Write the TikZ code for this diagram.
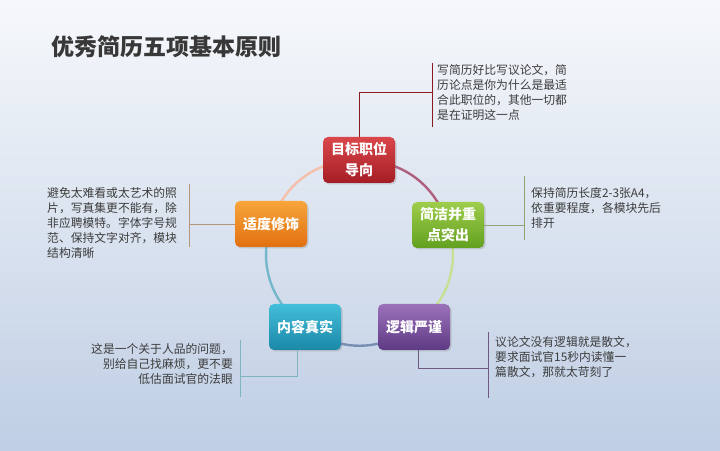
\documentclass[tikz,border=0pt]{standalone}
\usepackage{fontspec}
\setmainfont{Noto Sans CJK SC}
\usetikzlibrary{shadows,backgrounds}

\definecolor{bgtop}{HTML}{F6F8FB}
\definecolor{bgbot}{HTML}{BFCEE4}
\definecolor{titlegray}{HTML}{383838}
\definecolor{notetext}{HTML}{3C3C3C}
\definecolor{redA}{HTML}{D9474B}  \definecolor{redB}{HTML}{A51D24}
\definecolor{grnA}{HTML}{9FCD4C}  \definecolor{grnB}{HTML}{62A01F}
\definecolor{orgA}{HTML}{F7A53C}  \definecolor{orgB}{HTML}{E2700F}
\definecolor{tealA}{HTML}{43BEDA} \definecolor{tealB}{HTML}{1B88A8}
\definecolor{purA}{HTML}{9B72BA}  \definecolor{purB}{HTML}{5E3A84}

\tikzset{
  pbox/.style n args={2}{rounded corners=5pt, minimum width=72pt,
    minimum height=46pt, top color=#1, bottom color=#2, draw=none,
    text=white, align=center, inner sep=2pt,
    font=\fontsize{14}{21}\selectfont\bfseries,
    drop shadow={opacity=0.3, shadow xshift=1.5pt, shadow yshift=-1.5pt}},
  note/.style={inner sep=0pt, text=notetext,
    font=\fontsize{11.8}{15}\selectfont},
  lead/.style={line width=0.8pt},
  ring/.style={line width=2.4pt, bend left=36},
}

\begin{document}
\begin{tikzpicture}[x=1pt, y=1pt]
  \useasboundingbox (0,0) rectangle (720,450);

  % Título
  \node[anchor=west, inner sep=0pt, text=titlegray,
        font=\fontsize{23}{23}\selectfont\bfseries] (title) at (51,403)
        {优秀简历五项基本原则};

  % Cinco principios
  \node[pbox={redA}{redB}]   (goal)  at (359,290) {目标职位\\导向};
  \node[pbox={grnA}{grnB}]   (brief) at (448,225) {简洁并重\\点突出};
  \node[pbox={purA}{purB}]   (logic) at (414,123) {逻辑严谨};
  \node[pbox={tealA}{tealB}] (true)  at (305,123) {内容真实};
  \node[pbox={orgA}{orgB}]   (deco)  at (271,226) {适度修饰};

  % Fondo y anillo
  \begin{scope}[on background layer]
    \shade[top color=bgtop, bottom color=bgbot] (0,0) rectangle (720,450);
    \draw[ring, color=redB!55!purA!85!white]  (goal.center)  to (brief.center);
    \draw[ring, color=grnA!60!white]          (brief.center) to (logic.center);
    \draw[ring, color=purA!55!tealA!70!gray]  (logic.center) to (true.center);
    \draw[ring, color=tealB!60!white]         (true.center)  to (deco.center);
    \draw[ring, color=orgA!45!redA!45!white]  (deco.center)  to (goal.center);
  \end{scope}

  % Nota superior
  \coordinate (tA) at (432,387);
  \coordinate (tB) at (432,323);
  \coordinate (tM) at (432,358);
  \draw[lead, color=redB!85!black] (tA) -- (tB);
  \draw[lead, color=redB!85!black] (goal.north) |- (tM);
  \node[note, anchor=west, align=left] (goalnote) at (437,357)
    {写简历好比写议论文，简\\历论点是你为什么是最适\\合此职位的，其他一切都\\是在证明这一点};

  % Nota derecha
  \coordinate (rA) at (524,274);
  \coordinate (rB) at (524,210);
  \coordinate (rM) at (524,225);
  \draw[lead, color=grnB!45!gray!80] (rA) -- (rB);
  \draw[lead, color=grnB!45!gray!80] (brief.east) -- (rM);
  \node[note, anchor=west, align=left] (briefnote) at (531,242)
    {保持简历长度2-3张A4，\\依重要程度，各模块先后\\排开};

  % Nota izquierda
  \coordinate (lA) at (189,266);
  \coordinate (lB) at (189,203);
  \coordinate (lM) at (189,226);
  \draw[lead, color=orgB!35!gray!80] (lA) -- (lB);
  \draw[lead, color=orgB!35!gray!80] (deco.west) -- (lM);
  \node[note, anchor=west, align=left] (deconote) at (47,227)
    {避免太难看或太艺术的照\\片，写真集更不能有，除\\非应聘模特。字体字号规\\范、保持文字对齐，模块\\结构清晰};

  % Nota inferior izquierda
  \coordinate (bA) at (240,110);
  \coordinate (bB) at (240,53);
  \coordinate (bM) at (240,74);
  \draw[lead, color=tealA!55!gray!80] (bA) -- (bB);
  \draw[lead, color=tealA!55!gray!80] ([xshift=-8pt]true.south) |- (bM);
  \node[note, anchor=east, align=right] (truenote) at (233,86)
    {这是一个关于人品的问题，\\别给自己找麻烦，更不要\\低估面试官的法眼};

  % Nota inferior derecha
  \coordinate (pA) at (488,118);
  \coordinate (pB) at (488,52);
  \coordinate (pM) at (488,82);
  \draw[lead, color=purB!55!gray] (pA) -- (pB);
  \draw[lead, color=purB!55!gray] ([xshift=4pt]logic.south) |- (pM);
  \node[note, anchor=west, align=left] (logicnote) at (495,93)
    {议论文没有逻辑就是散文，\\要求面试官15秒内读懂一\\篇散文，那就太苛刻了};
\end{tikzpicture}
\end{document}
